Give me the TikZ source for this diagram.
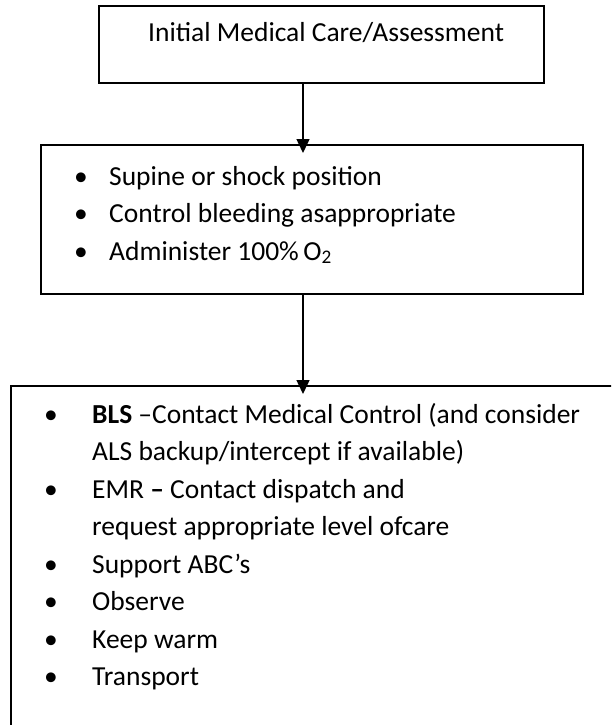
\documentclass[tikz,border=0pt]{standalone}
\usepackage{fontspec}
\setmainfont{Carlito}
\usetikzlibrary{arrows.meta}
\newcommand\flowfont{\fontsize{27.5}{37.5}\selectfont}
\newcommand\bul[1]{\llap{\makebox[#1][l]{\textbullet}}}
\tikzset{
    flowbox/.style={
        rectangle,
        draw=black,
        line width=2pt,
        anchor=north west,
        inner sep=0pt
    },
    % multi-line texts are placed by the baseline of their last line
    flowtext/.style={anchor=base west, inner sep=0pt, align=left, font=\flowfont},
    flowarrow/.style={-{Triangle[length=14pt,width=13pt]}, line width=1.5pt, shorten >=-9pt},
}

\begin{document}
\begin{tikzpicture}[x=1pt, y=-1pt]
    \useasboundingbox (0,0) rectangle (611,725);
    \clip (0,0) rectangle (611,725);

    \node[flowbox, minimum width=445pt, minimum height=77pt] (care) at (98,5) {};
    \node[flowbox, minimum width=542pt, minimum height=149pt] (supine) at (40,144) {};
    \node[flowbox, minimum width=640pt, minimum height=380pt] (bls) at (10,385) {};

    \node[flowtext] (caretext) at (148,42) {Initial Medical Care/Assessment};
    \node[flowtext] (supinetext) at (109,260) {\bul{35pt}Supine or shock position\\
        \bul{35pt}Control bleeding asappropriate\\
        \bul{35pt}Administer 100\%\,O\textsubscript{2}};
    \node[flowtext] (blstext) at (92,685.5) {\bul{48pt}\textbf{BLS} --Contact Medical Control (and consider\\
        ALS backup/intercept if available)\\
        \bul{48pt}EMR \textbf{--} Contact dispatch and\\
        request appropriate level ofcare\\
        \bul{48pt}Support ABC’s\\
        \bul{48pt}Observe\\
        \bul{48pt}Keep warm\\
        \bul{48pt}Transport};

    \coordinate (spine) at (303,0);
    \draw[flowarrow] (care.south -| spine) -- (supine.north -| spine);
    \draw[flowarrow] (supine.south -| spine) -- (bls.north -| spine);
\end{tikzpicture}
\end{document}
